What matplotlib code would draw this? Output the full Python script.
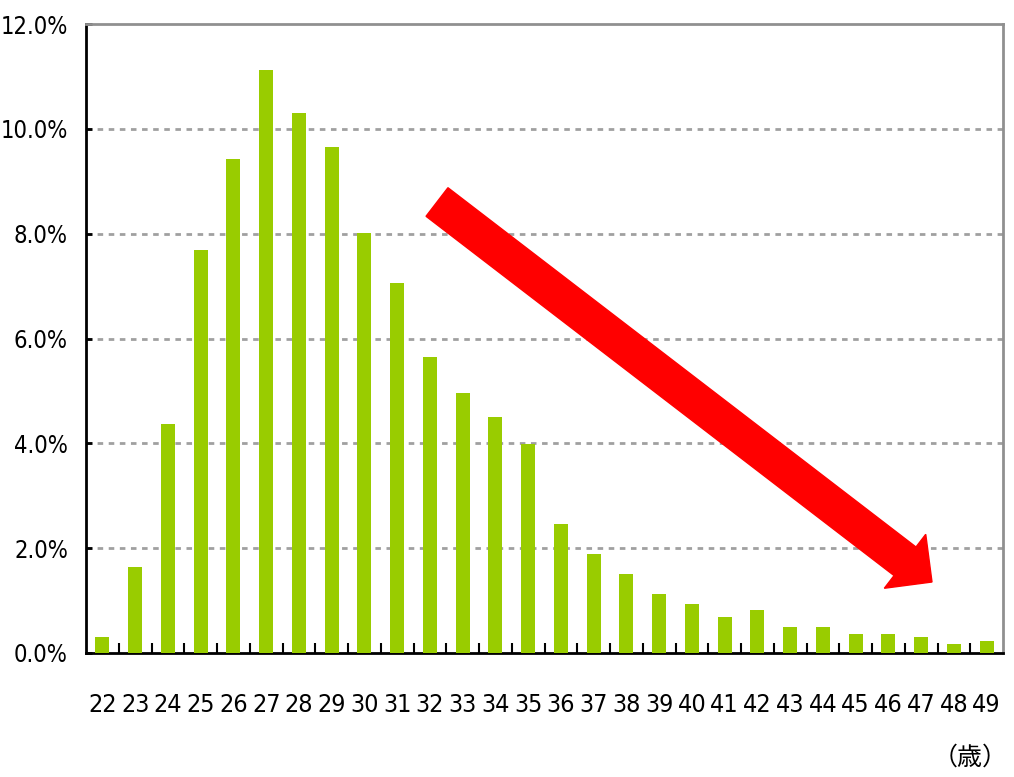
import matplotlib
matplotlib.use("Agg")
import matplotlib.pyplot as plt
from matplotlib.patches import FancyArrow
from matplotlib import font_manager
import numpy as np

ages = [str(a) for a in range(22, 50)]
values = [0.31, 1.64, 4.37, 7.69, 9.43, 11.13, 10.31, 9.66, 8.02, 7.06,
          5.65, 4.96, 4.50, 3.99, 2.46, 1.89, 1.51, 1.13, 0.94, 0.69,
          0.82, 0.50, 0.50, 0.36, 0.36, 0.31, 0.17, 0.23]
yticks = [0, 2, 4, 6, 8, 10, 12]
ytick_labels = ["0.0%", "2.0%", "4.0%", "6.0%", "8.0%", "10.0%", "12.0%"]
unit_label = "（歳）"

# pick a condensed face if one is installed
cond = [f for f in font_manager.fontManager.ttflist
        if "narrow" in f.name.lower() or "condensed" in f.name.lower()
        or str(f.stretch).lower() in ("condensed", "semi-condensed", "extra-condensed")]
if cond:
    num_font = dict(family=[cond[0].name, "Liberation Sans", "DejaVu Sans"], stretch=cond[0].stretch)
    fs = 17
else:
    num_font = dict(family=["Liberation Sans", "DejaVu Sans"])
    fs = 15

fig = plt.figure(figsize=(10.14, 7.77), dpi=100)
ax = fig.add_axes([86/1014, (777-653)/777, (1003-86)/1014, (653-24)/777])

x = np.arange(len(ages))
ax.bar(x, values, width=0.43, color="#99CC00", zorder=3)

ax.set_xlim(-0.5, len(ages) - 0.5)
ax.set_ylim(0, 12)

for yv in yticks[1:-1]:
    ax.axhline(yv, color="#a0a0a0", lw=2, ls=(0, (2, 2)), zorder=1)

ax.set_yticks(yticks)
ax.set_yticklabels(ytick_labels, fontsize=fs, **num_font)
ax.tick_params(axis="y", direction="in", length=4, width=2, pad=13, color="black")

ax.set_xticks(x)
ax.set_xticklabels(ages, fontsize=fs + 1, **num_font)
ax.tick_params(axis="x", which="major", length=0, pad=29)
ax.set_xticks(np.arange(0.5, len(ages) - 0.5, 1), minor=True)
ax.tick_params(axis="x", which="minor", direction="in", length=7, width=1.5, color="black")

for s in ["left", "bottom"]:
    ax.spines[s].set_color("black")
    ax.spines[s].set_linewidth(2)
for s in ["top", "right"]:
    ax.spines[s].set_color("#909090")
    ax.spines[s].set_linewidth(2)

fig.text(1008/1014, 1 - 758/777, unit_label, family=["Noto Sans CJK JP", "DejaVu Sans"],
         fontsize=18, ha="right", va="center")

# red arrow (annotation) in inches
sx, sy = 4.37, 7.77 - 2.02
tx, ty = 9.32, 7.77 - 5.82
arrow = FancyArrow(sx, sy, tx - sx, ty - sy, width=0.36, head_width=0.68,
                   head_length=0.34, length_includes_head=True,
                   color="#FF0000", transform=fig.dpi_scale_trans, zorder=10)
fig.add_artist(arrow)

fig.savefig("out.png", dpi=100)
